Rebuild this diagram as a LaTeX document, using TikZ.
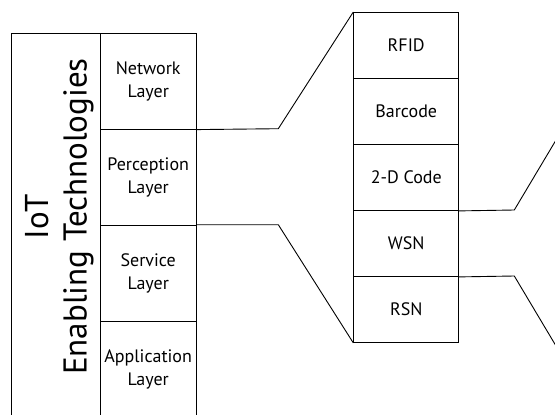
\documentclass[tikz,border=0pt]{standalone}
\usepackage{fontspec}
\setmainfont{PT Sans}
\begin{document}
\begin{tikzpicture}[x=1pt,y=-1pt,
  cell/.style={draw, line width=0.9pt, anchor=north west, inner sep=0pt, align=center, font=\fontsize{18}{22.7}\selectfont},
  link/.style={draw, line width=0.9pt}]
\useasboundingbox (0,0) rectangle (555,415);
% left title box
\node[cell, minimum width=89.3pt, minimum height=384pt] (iot) at (10.7,32.7) {};
\node[rotate=90, align=center, inner sep=0pt, font=\fontsize{33}{38.7}\selectfont] (title) at (59.3,216.5) {IoT\\Enabling Technologies};
% layers
\node[cell, minimum width=95.5pt, minimum height=96pt] (net) at (100,32.7) {Network\\Layer};
\node[cell, minimum width=95.5pt, minimum height=96pt] (per) at (100,128.7) {Perception\\Layer};
\node[cell, minimum width=95.5pt, minimum height=96pt] (ser) at (100,224.7) {Service\\Layer};
\node[cell, minimum width=95.5pt, minimum height=96pt] (app) at (100,320.7) {Application\\Layer};
% perception technologies
\node[cell, minimum width=105pt, minimum height=66pt] (rfid) at (353.3,12) {RFID};
\node[cell, minimum width=105pt, minimum height=66pt] (bar) at (353.3,78) {Barcode};
\node[cell, minimum width=105pt, minimum height=66pt] (code) at (353.3,144) {2-D Code};
\node[cell, minimum width=105pt, minimum height=66pt] (wsn) at (353.3,210) {WSN};
\node[cell, minimum width=105pt, minimum height=66pt] (rsn) at (353.3,276) {RSN};
% connectors
\coordinate (k1) at (278.3,128.7);
\draw[link] (net.south east) -- (k1) -- (rfid.north west);
\coordinate (k2) at (278.3,224.7);
\draw[link] (ser.north east) -- (k2) -- (rsn.south west);
\coordinate (k3) at (514.3,210);
\coordinate (e3) at (562,130);
\draw[link] (code.south east) -- (k3) -- (e3);
\coordinate (k4) at (514.3,276);
\coordinate (e4) at (562,356);
\draw[link] (wsn.south east) -- (k4) -- (e4);
\end{tikzpicture}
\end{document}
